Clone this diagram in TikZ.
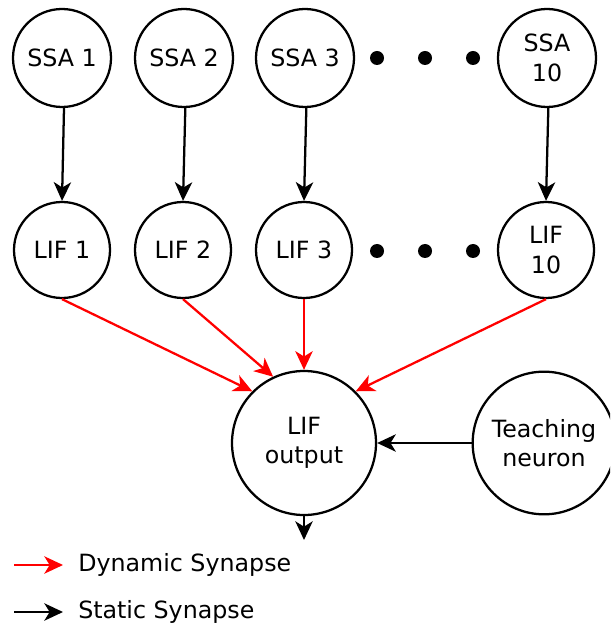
\documentclass[tikz,border=0pt]{standalone}
\usepackage{fontspec}
\setmainfont{DejaVu Sans}
\usetikzlibrary{arrows.meta}
\begin{document}
\begin{tikzpicture}[x=0.75pt,y=-0.75pt,
  neuron/.style={circle,draw,line width=1.7pt,inner sep=0pt,align=center,font=\fontsize{17.8}{22}\selectfont},
  dot/.style={circle,fill,inner sep=0pt,minimum size=10.5pt},
  conn/.style={line width=1.7pt,-{Stealth[length=14pt,width=13pt,inset=4pt]}},
  dyn/.style={conn,red},
  lbl/.style={anchor=west,inner sep=0pt,font=\fontsize{17.8}{22}\selectfont}]
\useasboundingbox (0,0) rectangle (610,630);
\clip (0,0) rectangle (610,630);
\node[neuron,minimum size=73.5pt] (s1) at (62,58) {SSA 1};
\node[neuron,minimum size=73.5pt] (s2) at (184,58) {SSA 2};
\node[neuron,minimum size=73.5pt] (s3) at (305,58) {SSA 3};
\node[neuron,minimum size=73.5pt] (s10) at (547,58) {SSA\\10};
\node[dot] (d1) at (377,58) {};
\node[dot] (d2) at (425,58) {};
\node[dot] (d3) at (473,58) {};
\node[neuron,minimum size=72pt] (l1) at (62,250) {LIF 1};
\node[neuron,minimum size=72pt] (l2) at (183,250) {LIF 2};
\node[neuron,minimum size=72pt] (l3) at (304,250) {LIF 3};
\node[neuron,minimum size=72pt] (l10) at (546,250) {LIF\\10};
\node[dot] (e1) at (377,251) {};
\node[dot] (e2) at (425,251) {};
\node[dot] (e3) at (473,251) {};
\node[neuron,minimum size=108pt] (out) at (304,443) {LIF\\output};
\node[neuron,minimum size=107pt] (teach) at (544,443) {Teaching\\neuron};
\draw[conn] ([xshift=1.5pt]s1.south) -- (l1.north);
\draw[conn] ([xshift=1pt]s2.south) -- (l2.north);
\draw[conn] ([xshift=1pt]s3.south) -- (l3.north);
\draw[conn] ([xshift=1pt]s10.south) -- (l10.north);
\draw[dyn] (l1.south) -- (out.135);
\draw[dyn] (l2.south) -- (out.115);
\draw[dyn] (l3.south) -- (out.north);
\draw[dyn] (l10.south) -- (out.45);
\draw[conn] (teach) -- (out);
\coordinate (outend) at (304,540);
\draw[conn] (out.south) -- (outend);
\coordinate (a1) at (14,565);
\coordinate (a2) at (63,565);
\draw[dyn] (a1) -- (a2);
\node[lbl] (t1) at (78,565) {Dynamic Synapse};
\coordinate (b1) at (14,612);
\coordinate (b2) at (63,612);
\draw[conn] (b1) -- (b2);
\node[lbl] (t2) at (78,612) {Static Synapse};
\end{tikzpicture}
\end{document}
